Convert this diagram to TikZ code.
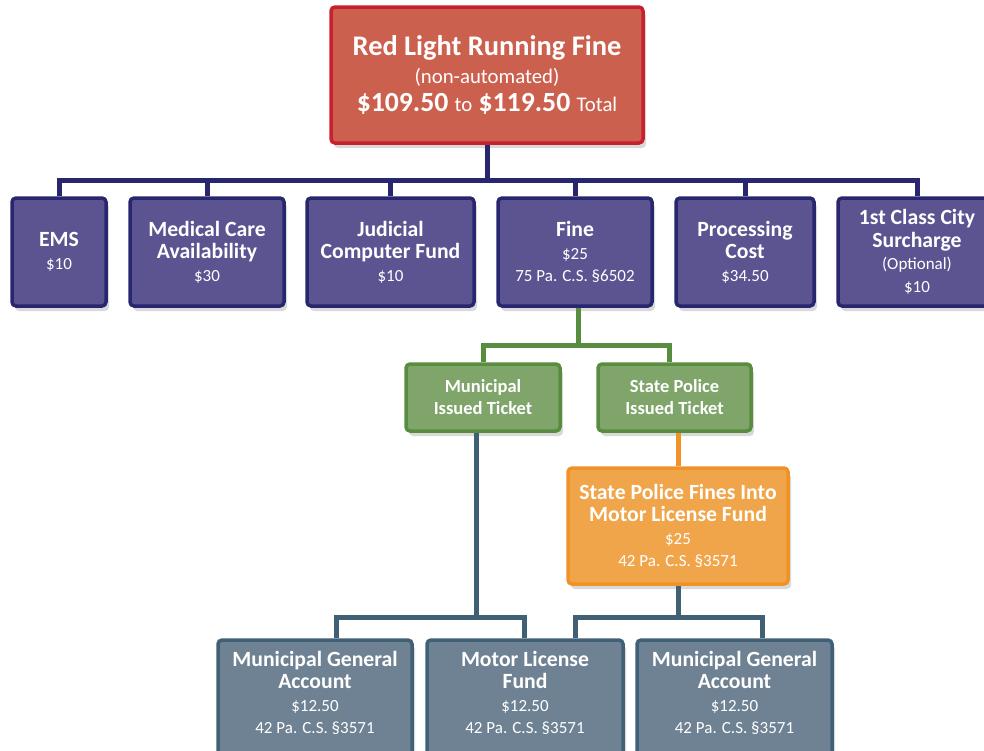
\documentclass[tikz,border=0pt]{standalone}
\usepackage{fontspec}
\setmainfont{Carlito}
\usetikzlibrary{shadows}

\definecolor{redfill}{HTML}{CB604E}
\definecolor{redline}{HTML}{C8202E}
\definecolor{navyfill}{HTML}{5B5491}
\definecolor{navyline}{HTML}{28266E}
\definecolor{greenfill}{HTML}{7FA56B}
\definecolor{greenline}{HTML}{588C3E}
\definecolor{orangefill}{HTML}{F1A54A}
\definecolor{orangeline}{HTML}{F19228}
\definecolor{slatefill}{HTML}{6F8294}
\definecolor{slateline}{HTML}{406076}

\newcommand{\amt}{\mdseries\fontsize{17}{22.5}\selectfont}

\begin{document}
\begin{tikzpicture}[
    x=1pt, y=-1pt, % one unit per pixel, y runs down
    box/.style={rectangle, rounded corners=4pt, line width=3.5pt, text=white,
        align=center, inner sep=0pt, font=\bfseries\fontsize{21.7}{22.5}\selectfont,
        drop shadow={opacity=0.3, shadow xshift=3pt, shadow yshift=-5pt}},
    topbox/.style={box, draw=redline, fill=redfill, minimum width=312pt,
        minimum height=136pt, font=\bfseries\fontsize{28.4}{28}\selectfont},
    costbox/.style={box, draw=navyline, fill=navyfill, minimum height=108pt},
    ticketbox/.style={box, draw=greenline, fill=greenfill, minimum width=154pt,
        minimum height=67pt, font=\bfseries\fontsize{18.5}{22}\selectfont},
    fundbox/.style={box, draw=orangeline, fill=orangefill, minimum width=220pt,
        minimum height=116pt},
    acctbox/.style={box, draw=slateline, fill=slatefill, minimum height=122pt,
        text depth=17pt},
    link/.style={line width=5pt},
    navylink/.style={link, draw=navyline},
    greenlink/.style={link, draw=greenline},
    orangelink/.style={link, draw=orangeline},
    slatelink/.style={link, draw=slateline}
]
    \useasboundingbox (0,0) rectangle (984,750);

    % Total
    \node[topbox] (top) at (487,75) {Red Light Running Fine\\
        {\mdseries\fontsize{20.8}{28}\selectfont (non-automated)}\\
        {\fontsize{27.7}{28}\selectfont \$109.50 {\mdseries\fontsize{20.8}{28}\selectfont to} \$119.50
        {\mdseries\fontsize{20.8}{28}\selectfont Total}}};

    % Cost parts
    \node[costbox, minimum width=94pt] (ems) at (59,252) {EMS\\{\amt \$10}};
    \node[costbox, minimum width=154pt] (med) at (207,252) {Medical Care\\Availability\\{\amt \$30}};
    \node[costbox, minimum width=167pt] (jud) at (390.5,252) {Judicial\\Computer Fund\\{\amt \$10}};
    \node[costbox, minimum width=154pt] (fine) at (575,252) {Fine\\{\amt \$25}\\{\amt 75 Pa. C.S. §6502}};
    \node[costbox, minimum width=138pt] (proc) at (745,252) {Processing\\Cost\\{\amt \$34.50}};
    \node[costbox, minimum width=158pt] (csur) at (917,252) {1st Class City\\Surcharge\\{\amt (Optional)}\\{\amt \$10}};

    % Tickets
    \node[ticketbox] (mit) at (483,397.5) {Municipal\\Issued Ticket};
    \node[ticketbox, minimum width=153pt] (spit) at (674.5,397.5) {State Police\\Issued Ticket};
    \node[fundbox] (spf) at (678,526) {State Police Fines Into\\Motor License Fund\\{\amt \$25}\\{\amt 42 Pa. C.S. §3571}};

    % Accounts
    \node[acctbox, minimum width=194pt] (acct1) at (315,701) {Municipal General\\Account\\{\amt \$12.50}\\{\amt 42 Pa. C.S. §3571}};
    \node[acctbox, minimum width=196pt] (motor) at (525,701) {Motor License\\Fund\\{\amt \$12.50}\\{\amt 42 Pa. C.S. §3571}};
    \node[acctbox, minimum width=195pt] (acct2) at (734.5,701) {Municipal General\\Account\\{\amt \$12.50}\\{\amt 42 Pa. C.S. §3571}};

    % Links
    \draw[navylink] (top.south) -- (top.south |- 0,180);
    \draw[navylink] (ems.north) |- (csur.north |- 0,180) -- (csur.north);
    \foreach \n in {med,jud,fine,proc}
        \draw[navylink] (\n.north) -- (\n.north |- 0,180);

    \draw[greenlink] ([xshift=3pt]fine.south) -- ([xshift=3pt]fine.south |- 0,345);
    \draw[greenlink] (mit.north) |- ([xshift=-5pt]spit.north |- 0,345) -- ([xshift=-5pt]spit.north);

    \draw[orangelink] (spf.north |- spit.south) -- (spf.north);

    \draw[slatelink] ([xshift=-7pt]mit.south) -- ([xshift=-7pt]mit.south |- 0,617);
    \draw[slatelink] ([xshift=21pt]acct1.north) |- ([xshift=-1pt]motor.north |- 0,617) -- ([xshift=-1pt]motor.north);
    \draw[slatelink] (spf.south) -- (spf.south |- 0,617);
    \draw[slatelink] ([xshift=50pt]motor.north) |- ([xshift=28pt]acct2.north |- 0,617) -- ([xshift=28pt]acct2.north);

\end{tikzpicture}
\end{document}
